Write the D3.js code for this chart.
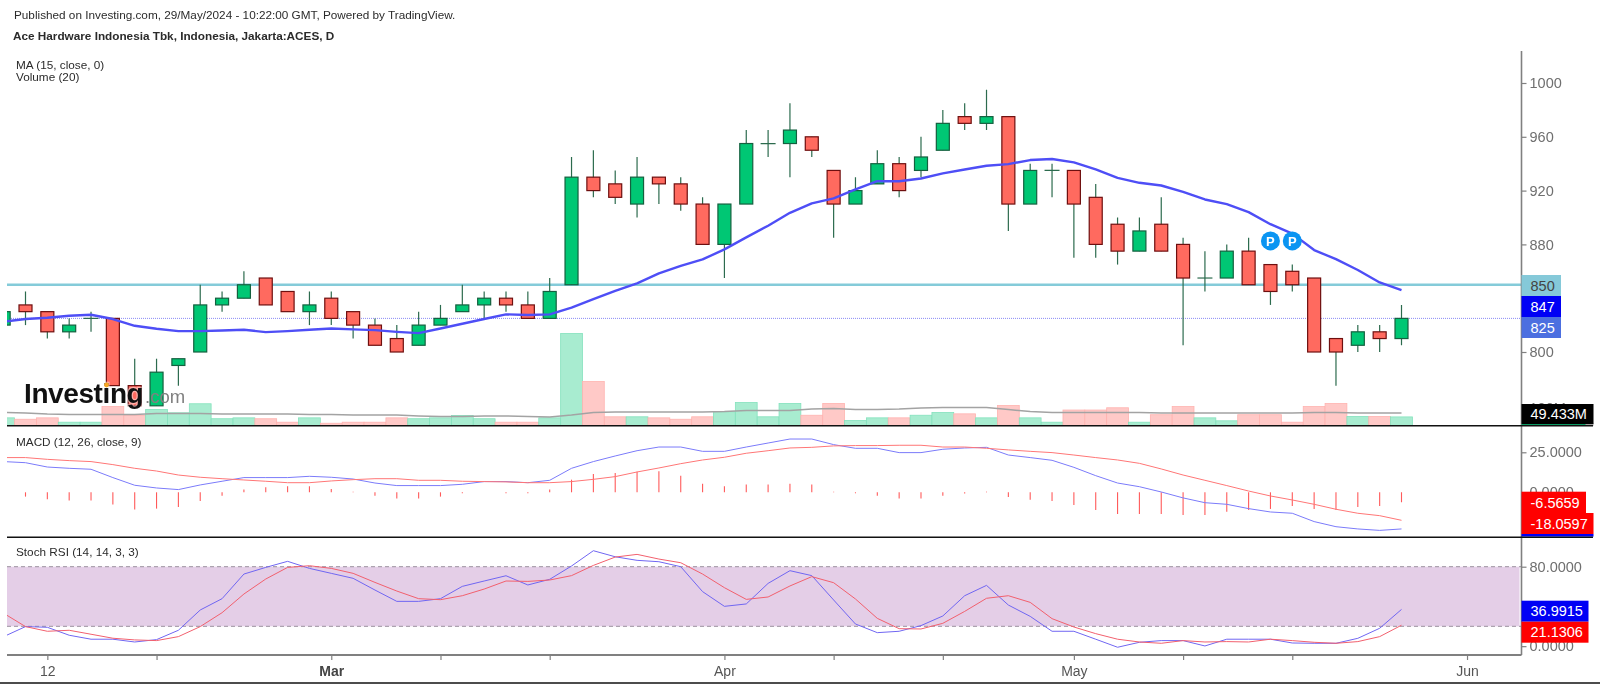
<!DOCTYPE html>
<html lang="en">
<head>
    <meta charset="UTF-8" />
    <script src="https://d3js.org/d3.v7.min.js"></script>
    <title>ACES daily</title>
    <style>
        html, body { margin: 0; padding: 0; background: #fff; }
        svg { display: block; font-family: "Liberation Sans", Arial, sans-serif; filter: blur(0.45px); }
    </style>
</head>
<body>
    <svg id="chart" width="1600" height="684"></svg>
<script>
    // trading days, first one is cut off by the left edge
    const days = d3.range(-1, 64);

    const opens = [820,835,830,815,825,825,775,760,790,800,835,840,855,845,830,840,830,820,810,805,820,830,835,840,835,825,850,930,925,910,930,925,910,880,910,955,955,960,935,910,925,940,935,950,975,970,975,910,935,935,915,895,875,895,880,855,855,875,865,860,855,810,805,815,810];
    const highs = [835,845,830,825,830,825,795,795,795,850,845,860,855,845,845,845,830,825,820,830,835,850,845,845,845,855,945,950,935,945,930,930,915,910,965,965,985,960,935,930,950,945,960,980,985,995,975,940,940,935,925,900,900,915,885,875,880,885,865,865,855,810,820,820,835];
    const lows = [815,820,810,810,815,775,760,760,775,800,830,840,835,830,820,820,810,805,800,805,820,830,825,830,825,825,850,915,910,900,910,905,880,855,910,945,930,945,885,910,925,915,930,950,965,965,890,910,915,870,870,865,875,875,805,845,855,850,835,845,800,775,800,800,805];
    const closes = [830,830,815,820,825,775,760,785,795,835,840,850,835,830,835,825,820,805,800,820,825,835,840,835,825,845,930,920,915,930,925,910,880,910,955,955,965,950,910,920,940,920,945,970,970,975,910,935,935,910,880,875,890,875,855,855,875,850,845,850,800,800,815,810,825];
    const ma15 = [822.5,824.5,825.5,827,827.7,824.5,819.5,817.3,815.5,815.5,816,816.5,814.8,815.5,816.5,817.5,816.8,816.3,815,814,817.5,821,824.5,828,827.5,828,833,839.3,845.5,851,858.4,864,868.8,876.3,885.2,893.9,903.5,910.5,914.2,920.9,927,927,929,932.8,935.7,938.5,939.7,942.7,943.5,941,935.7,929.5,925.8,923.8,919,913.4,910,904,895,888,875.8,869,861,851.7,846];

    // volume in millions
    const volumes = [44,36,44,19,19,109,58,92,73,125,39,44,39,19,44,13,19,19,44,39,44,58,39,19,19,44,529,253,50,50,44,36,50,79,132,50,127,59,127,29,44,44,59,75,67,44,115,44,19,89,89,102,19,62,109,44,27,62,62,19,109,127,52,52,49.4];
    const volumeAvg = [75,72,66,63,63,63,63,69,69,69,66,66,66,66,63,63,60,60,60,55,52,52,55,55,52,49,60,75,78,78,78,78,78,80,86,86,86,95,98,92,92,95,101,104,104,104,92,80,75,75,75,75,75,72,72,72,72,72,72,72,75,75,72,72,72];

    const macdLine = [19.2,18.5,15.8,15,14.4,9.2,4.4,2.7,1.7,4.6,6.9,9.2,9.2,9.2,10,9.4,8.3,5.8,4.2,4.2,4.2,5,6.7,6.7,6,7.5,15,19.2,22.7,26,28.3,28.3,25.6,25.6,28.3,30.8,33.3,33.3,29.8,27.5,27.5,24.8,24.8,26.9,27.7,28.1,23.3,21.7,20,15.6,10.4,5.8,3.5,0.2,-3.5,-6.5,-7.5,-10.2,-12.3,-13.1,-18.3,-21.5,-22.9,-23.8,-22.9];
    const signalLine = [21.7,21.7,20.6,19.8,19.2,17.3,15,13.3,10.8,9.4,8.5,7.7,6.9,6,6,7.1,7.9,8.5,8.5,7.5,7.5,6.9,6.7,6.5,6,6,6.7,8.1,9.8,12.7,15.2,17.9,20.2,21.9,24.4,26,27.7,28.1,29,29.2,29.2,29.4,29.4,28.3,28.3,27.5,26.5,25.6,24.8,23.3,21.7,20.2,18.1,14.6,10.8,7.5,4.2,0.8,-2.3,-4.8,-7.5,-10.6,-13.1,-14.6,-17.5];
    const macdHist = [-2,-2.7,-4.4,-5.2,-5.2,-7.7,-10.8,-10.2,-9.2,-5.4,-2.1,1.7,3.1,3.8,3.8,2.1,0.4,-2.1,-3.8,-3.8,-2.7,-0.6,0,-0.6,-0.6,1.7,7.9,11.5,12.1,12.9,13.1,10.4,5.4,3.8,4.8,4.8,5.4,4.8,0.4,-0.6,-2.1,-3.8,-3.8,-2.1,-0.8,0.4,-2.9,-4.6,-5.4,-7.9,-11,-13.5,-13.5,-13.5,-14.2,-14.2,-12.1,-11,-10.4,-8.5,-10.4,-11,-9.2,-8.5,-6.2];

    const stochK = [9.6,19.7,19,11,7,7,4.2,6.6,16,36.4,47.8,72.6,79.3,85.4,78.3,73.3,68.3,56.5,45.1,45.1,47.8,60.2,65.6,70.9,61.6,67.3,80.7,96.1,90,86.4,85,80,54.9,40.1,42.5,63.2,76,71,46.5,22.3,13.6,15,20.7,30.4,50.8,61.2,41.4,30,15,15,7,-1.1,3.9,5.6,5.6,0.2,7,7,7,3.2,2.9,2.9,7.9,18,37];
    const stochD = [33.1,19.7,15,16,12,8,6.3,5.6,9.6,19.7,33.7,52.5,67.6,79.3,81,78.3,73.3,64.2,55.5,47.8,46.8,50.8,57.5,65.6,65.2,66.6,71,81.3,89.7,92.4,87.7,84,72.6,58.9,47.1,49.5,60.6,70,63.9,47.5,28,17.6,17.3,23,35,48.2,50.8,44.1,27.7,19.3,12.6,7,4.2,2.9,5.6,4.2,4.6,4.2,7,5.6,3.9,2.9,4.6,9.6,21.1];

    const priceTicks = [800, 880, 920, 960, 1000];
    const volumeTicks = [100];
    const macdTicks = [0, 25];
    const stochTicks = [0, 80];
    const dayTicks = [1, 6, 14, 19, 24, 32, 37, 42, 48, 53, 58, 66];
    const dayTickLabels = {1: "12", 14: "Mar", 32: "Apr", 48: "May", 66: "Jun"};
    const pivotDays = [57, 58];
    const pivotPrice = 880;
    const hLinePrice = 850;
    const lastClose = 825;
    const stochBand = [20, 80];

    const plotLeft = 7, plotRight = 1521.5;
    const svg = d3.select("#chart");

    const x = d3.scaleLinear().domain([0, 63]).range([25.5, 1401.5]);
    const yPrice = d3.scaleLinear().domain([1000, 800]).range([83, 352]);
    const yVolume = d3.scaleLinear().domain([0, 529]).range([425.5, 333.5]);
    const yMacd = d3.scaleLinear().domain([25, 0]).range([452.3, 492.3]);
    const yStoch = d3.scaleLinear().domain([80, 20]).range([566.7, 626.3]);

    const greenFill = "#00c774", redFill = "#ff6a5f";
    const bodyWidth = 13;

    svg.append("defs").append("clipPath").attr("id", "plotClip")
        .append("rect").attr("x", plotLeft).attr("y", 60).attr("width", plotRight - plotLeft).attr("height", 600);

    const plot = svg.append("g").attr("clip-path", "url(#plotClip)");

    // volume goes behind the candles
    plot.append("g").selectAll("rect")
        .data(days)
        .enter()
        .append("rect")
        .attr("x", (d) => x(d) - 10.9)
        .attr("width", 21.8)
        .attr("y", (d, i) => yVolume(volumes[i]))
        .attr("height", (d, i) => yVolume(0) - yVolume(volumes[i]))
        .attr("fill", (d, i) => closes[i] >= opens[i] ? "#a8ecd0" : "#ffc9c7")
        .attr("stroke", (d, i) => closes[i] >= opens[i] ? "#84e2bd" : "#ffb3b0")
        .attr("stroke-width", 0.8);

    function drawLine(parent, values, scale, color, width) {
        const line = d3.line().x((d, i) => x(days[i])).y((d) => scale(d));
        return parent.append("path")
            .attr("d", line(values))
            .attr("fill", "none")
            .attr("stroke", color)
            .attr("stroke-width", width)
            .attr("stroke-linejoin", "round");
    }

    drawLine(plot, volumeAvg, yVolume, "#a3a3a3", 1.5);

    plot.append("line")
        .attr("x1", plotLeft).attr("x2", plotRight)
        .attr("y1", yPrice(hLinePrice)).attr("y2", yPrice(hLinePrice))
        .attr("stroke", "#84cbd9").attr("stroke-width", 2.6);
    plot.append("line")
        .attr("x1", plotLeft).attr("x2", plotRight)
        .attr("y1", yPrice(lastClose)).attr("y2", yPrice(lastClose))
        .attr("stroke", "#8a8af5").attr("stroke-dasharray", "1 1");

    const candles = plot.append("g").selectAll("g").data(days).enter().append("g");
    candles.append("line")
        .attr("x1", (d) => x(d)).attr("x2", (d) => x(d))
        .attr("y1", (d, i) => yPrice(highs[i]))
        .attr("y2", (d, i) => yPrice(lows[i]))
        .attr("stroke", "#2c6b4e").attr("stroke-width", 1.2);
    candles.filter((d, i) => opens[i] !== closes[i]).append("rect")
        .attr("x", (d) => x(d) - bodyWidth / 2)
        .attr("width", bodyWidth)
        .attr("y", (d) => yPrice(Math.max(opens[d + 1], closes[d + 1])))
        .attr("height", (d) => Math.abs(yPrice(opens[d + 1]) - yPrice(closes[d + 1])))
        .attr("fill", (d) => closes[d + 1] > opens[d + 1] ? greenFill : redFill)
        .attr("stroke", (d) => closes[d + 1] > opens[d + 1] ? "#14603f" : "#6e0f0f")
        .attr("stroke-width", 1.2);
    // open and close the same: just a dash
    candles.filter((d, i) => opens[i] === closes[i]).append("line")
        .attr("x1", (d) => x(d) - bodyWidth / 2 - 1).attr("x2", (d) => x(d) + bodyWidth / 2 + 1)
        .attr("y1", (d) => yPrice(closes[d + 1]))
        .attr("y2", (d) => yPrice(closes[d + 1]))
        .attr("stroke", "#2c6b4e").attr("stroke-width", 1.2);

    drawLine(plot, ma15, yPrice, "#4e4ef6", 2.4);

    // P markers
    const pivots = plot.append("g").selectAll("g").data(pivotDays).enter().append("g")
        .attr("transform", (d) => `translate(${x(d)},${yPrice(pivotPrice) - 3.5})`);
    pivots.append("circle").attr("r", 9.5).attr("fill", "#0b95f2");
    pivots.append("text")
        .attr("text-anchor", "middle").attr("y", 5)
        .attr("fill", "#fff").attr("font-size", 13).attr("font-weight", 700)
        .text("P");

    // logo
    const logo = svg.append("g");
    logo.append("text").attr("x", 24).attr("y", 403)
        .attr("font-size", 28).attr("font-weight", 700).attr("fill", "#111")
        .attr("stroke", "#fff").attr("stroke-width", 2.5).attr("stroke-opacity", 0.45).attr("paint-order", "stroke")
        .attr("letter-spacing", -0.4).text("Investing");
    logo.append("text").attr("x", 145).attr("y", 403)
        .attr("font-size", 18.5).attr("fill", "#808080").text(".com");
    logo.append("circle").attr("cx", 106.5).attr("cy", 385).attr("r", 2.4).attr("fill", "#f5a623");

    // macd histogram
    plot.append("g").selectAll("line")
        .data(days.slice(1))
        .enter()
        .append("line")
        .attr("x1", (d) => x(d)).attr("x2", (d) => x(d))
        .attr("y1", yMacd(0))
        .attr("y2", (d, i) => yMacd(macdHist[i + 1]))
        .attr("stroke", "#ff5a5a").attr("stroke-width", 1.1);
    drawLine(plot, macdLine, yMacd, "#7b7bfa", 1);
    drawLine(plot, signalLine, yMacd, "#ff7676", 1);

    // stoch band
    plot.append("rect")
        .attr("x", plotLeft).attr("width", plotRight - 2 - plotLeft)
        .attr("y", yStoch(stochBand[1]))
        .attr("height", yStoch(stochBand[0]) - yStoch(stochBand[1]))
        .attr("fill", "#e4cee7");
    plot.append("g").selectAll("line")
        .data(stochBand)
        .enter()
        .append("line")
        .attr("x1", plotLeft).attr("x2", plotRight)
        .attr("y1", (d) => yStoch(d)).attr("y2", (d) => yStoch(d))
        .attr("stroke", "#ada3b0").attr("stroke-width", 1.2).attr("stroke-dasharray", "4 3");
    drawLine(plot, stochK, yStoch, "#7066f2", 1);
    drawLine(plot, stochD, yStoch, "#f2606e", 1);

    // axes
    function styleAxis(g) {
        g.selectAll("path.domain").remove();
        g.selectAll("line").attr("stroke", "#808080").attr("stroke-width", 1.2);
        g.selectAll("text").attr("fill", "#6f6f6f").attr("font-size", 14.5)
            .attr("font-family", "'Liberation Sans', Arial, sans-serif");
    }

    const right = svg.append("g").attr("transform", `translate(${plotRight},0)`);
    right.append("g").call(d3.axisRight(yPrice).tickValues(priceTicks).tickFormat(d3.format("d")).tickSize(5).tickPadding(3)).call(styleAxis);
    right.append("g").call(d3.axisRight(yVolume).tickValues(volumeTicks).tickFormat((d) => d + "M").tickSize(5).tickPadding(3)).call(styleAxis);
    right.append("g").call(d3.axisRight(yMacd).tickValues(macdTicks).tickFormat(d3.format(".4f")).tickSize(5).tickPadding(3)).call(styleAxis);
    right.append("g").call(d3.axisRight(yStoch).tickValues(stochTicks).tickFormat(d3.format(".4f")).tickSize(5).tickPadding(3)).call(styleAxis);
    right.append("line").attr("y1", 51).attr("y2", 655).attr("stroke", "#808080").attr("stroke-width", 1.6);

    const bottom = svg.append("g").attr("transform", "translate(0,655)");
    bottom.call(d3.axisBottom(x).tickValues(dayTicks)
        .tickFormat((d) => dayTickLabels[d] || "").tickSize(5).tickPadding(6));
    styleAxis(bottom);
    bottom.selectAll("text").attr("font-size", 14).attr("fill", "#555");
    bottom.selectAll("g.tick").filter((d) => d === 14).select("text").attr("font-weight", 700).attr("fill", "#444");
    svg.append("line").attr("x1", plotLeft).attr("x2", plotRight).attr("y1", 655).attr("y2", 655)
        .attr("stroke", "#808080").attr("stroke-width", 1.8);

    // value tags on the right
    const tags = [
        {text: "850", y: 275, w: 39.5, h: 21, fill: "#85c9d9", color: "#444"},
        {text: "847", y: 296, w: 39.5, h: 21, fill: "#0000f5", color: "#fff"},
        {text: "825", y: 317, w: 39.5, h: 21, fill: "#4c6fe0", color: "#fff"},
        {text: "", y: 423.5, w: 72, h: 2.2, fill: "#a0a0a0", color: "#fff"},
        {text: "49.433M", y: 404, w: 72, h: 20, fill: "#000", color: "#fff"},
        {text: "", y: 424, w: 64, h: 1.8, fill: "#0a9a62", color: "#fff"},
        {text: "-6.5659", y: 491.7, w: 64.5, h: 21.3, fill: "#ff0000", color: "#fff"},
        {text: "-18.0597", y: 513, w: 72, h: 21, fill: "#ff0000", color: "#fff"},
        {text: "", y: 534, w: 72, h: 2.6, fill: "#0000f5", color: "#fff"},
        {text: "36.9915", y: 600.7, w: 67, h: 21, fill: "#0000f5", color: "#fff"},
        {text: "21.1306", y: 621.7, w: 67, h: 21, fill: "#ff0000", color: "#fff"}
    ];
    const tag = svg.append("g").selectAll("g").data(tags).enter().append("g")
        .attr("transform", (d) => `translate(${plotRight},${d.y})`);
    tag.append("rect")
        .attr("width", (d) => d.w).attr("height", (d) => d.h)
        .attr("fill", (d) => d.fill);
    tag.append("text")
        .attr("x", 9).attr("y", (d) => d.h / 2 + 5.2)
        .attr("font-size", 14.5).attr("fill", (d) => d.color)
        .text((d) => d.text);

    // panel borders
    [425.7, 537.3].forEach((y) => {
        svg.append("line").attr("x1", plotLeft).attr("x2", 1593).attr("y1", y).attr("y2", y)
            .attr("stroke", "#111").attr("stroke-width", 1.6);
    });
    svg.append("line").attr("x1", 0).attr("x2", 1600).attr("y1", 683).attr("y2", 683)
        .attr("stroke", "#111").attr("stroke-width", 1.6);

    // headings
    const labels = [
        {text: "Published on Investing.com, 29/May/2024 - 10:22:00 GMT, Powered by TradingView.", x: 14, y: 19, weight: 400},
        {text: "Ace Hardware Indonesia Tbk, Indonesia, Jakarta:ACES, D", x: 13, y: 40, weight: 700},
        {text: "MA (15, close, 0)", x: 16, y: 69, weight: 400},
        {text: "Volume (20)", x: 16, y: 81, weight: 400},
        {text: "MACD (12, 26, close, 9)", x: 16, y: 446, weight: 400},
        {text: "Stoch RSI (14, 14, 3, 3)", x: 16, y: 556, weight: 400}
    ];
    svg.append("g").selectAll("text").data(labels).enter().append("text")
        .attr("x", (d) => d.x).attr("y", (d) => d.y)
        .attr("font-size", 11.75)
        .attr("font-weight", (d) => d.weight)
        .attr("fill", "#2b2b2b")
        .text((d) => d.text);
</script>
</body>
</html>
